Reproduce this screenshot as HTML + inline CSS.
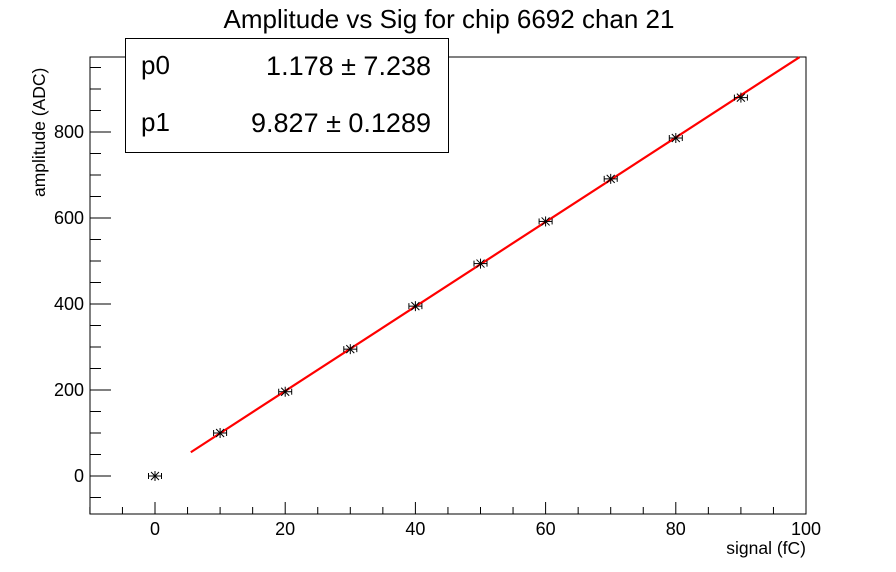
<!DOCTYPE html>
<html><head><meta charset="utf-8"><style>
html,body{margin:0;padding:0;background:#fff;}
svg{display:block;font-family:"Liberation Sans",sans-serif;}
</style></head><body>
<svg id="s" width="896" height="572" viewBox="0 0 896 572" xmlns="http://www.w3.org/2000/svg">
<rect width="896" height="572" fill="#fff"/>
<text x="449" y="28" font-size="26" text-anchor="middle">Amplitude vs Sig for chip 6692 chan 21</text>
<rect x="90" y="57" width="716" height="457" fill="none" stroke="#000" stroke-width="1"/>
<g id="ax" stroke="#000" stroke-width="1"></g>
<g id="lab" font-size="18"></g>
<text x="806" y="554" font-size="17.5" text-anchor="end">signal (fC)</text>
<text transform="translate(45,197) rotate(-90)" font-size="17.5" text-anchor="start">amplitude (ADC)</text>
<polyline id="fit" fill="none" stroke="#f00" stroke-width="2.2"/>
<g id="pts" stroke="#000" stroke-width="1" fill="none"></g>
<rect x="125.5" y="38.5" width="323" height="114" fill="#fff" stroke="#000" stroke-width="1"/>
<text x="141" y="74" font-size="26">p0</text>
<text x="431" y="75" font-size="27" text-anchor="end">1.178 ± 7.238</text>
<text x="141" y="131" font-size="26">p1</text>
<text x="431" y="132" font-size="27" text-anchor="end">9.827 ± 0.1289</text>
</svg>
<script>
var NS="http://www.w3.org/2000/svg";
function X(v){return 155+v*6.51;}
function Y(v){return 476-v*0.43;}
function el(p,t,a){var e=document.createElementNS(NS,t);for(var k in a)e.setAttribute(k,a[k]);p.appendChild(e);return e;}
var ax=document.getElementById('ax'),lab=document.getElementById('lab');
for(var v=-10;v<=100;v+=5){var x=X(v),maj=v%20==0;el(ax,'line',{x1:x,x2:x,y1:514,y2:514-(maj?12:7)});
 if(maj){var t=el(lab,'text',{x:x,y:535,'text-anchor':'middle'});t.textContent=v;}}
for(var v=-50;v<=950;v+=50){var y=Y(v);if(y<57||y>514)continue;var maj=v%200==0;el(ax,'line',{x1:90,x2:90+(maj?21:11),y1:y,y2:y});
 if(maj){var t=el(lab,'text',{x:84,y:y+6,'text-anchor':'end'});t.textContent=v;}}
var xs=[5.5,99.0];document.getElementById('fit').setAttribute('points',xs.map(function(x){return X(x)+','+Y(1.178+9.827*x)}).join(' '));
var d=[[0,0],[10,100],[20,196],[30,295],[40,395],[50,494],[60,592],[70,691],[80,786],[90,880]];
var g=document.getElementById('pts');
d.forEach(function(p){var x=X(p[0]),y=Y(p[1]),e=6.5;
 el(g,'line',{x1:x-e,x2:x+e,y1:y,y2:y});el(g,'line',{x1:x-e,x2:x-e,y1:y-3,y2:y+3});el(g,'line',{x1:x+e,x2:x+e,y1:y-3,y2:y+3});
 el(g,'line',{x1:x,x2:x,y1:y-5,y2:y+5});el(g,'line',{x1:x-4,x2:x+4,y1:y-4,y2:y+4});el(g,'line',{x1:x-4,x2:x+4,y1:y+4,y2:y-4});});
</script>
</body></html>
